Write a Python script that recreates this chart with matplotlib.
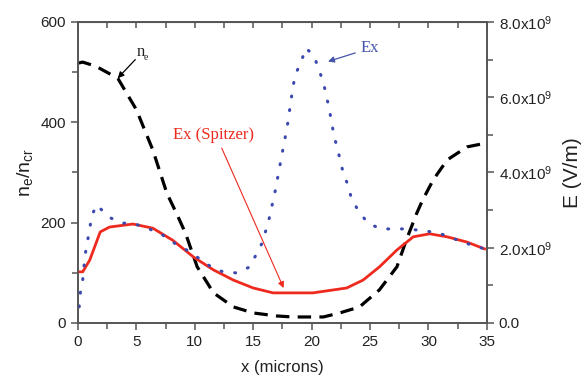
import matplotlib
matplotlib.use("Agg")
import matplotlib.pyplot as plt
from matplotlib.ticker import MultipleLocator, FixedLocator

plt.rcParams['font.family'] = ['Liberation Sans', 'DejaVu Sans']
plt.rcParams['mathtext.fontset'] = 'custom'
plt.rcParams['mathtext.rm'] = 'Liberation Sans'
plt.rcParams['mathtext.it'] = 'Liberation Sans:italic'

# n_e / n_cr (left axis)
ne_x = [0.0, 0.4, 1.5, 3.4, 5.0, 6.4, 7.6, 8.5, 9.2, 10.2, 11.6, 13.3, 15.0, 17.0,
        18.4, 21.0, 22.4, 24.1, 25.8, 27.3, 28.1, 29.0, 29.5, 30.4, 31.6, 33.3, 34.8]
ne_y = [518, 520, 512, 488, 425, 345, 259, 215, 179, 112, 60, 32, 20, 14,
        12, 12, 20, 32, 66, 112, 165, 219, 245, 285, 325, 351, 358]

# Ex (right axis, V/m)
ex_x = [0.1, 0.2, 0.4, 0.6, 0.8, 1.2, 1.6, 2.6, 3.7, 4.9, 5.9, 7.0, 8.1, 9.3, 10.3,
        11.4, 12.4, 13.6, 14.7, 15.8, 16.4, 16.9, 17.5, 17.9, 18.4, 18.6, 19.1, 19.5,
        20.2, 20.6, 21.0, 21.5, 21.9, 22.4, 22.7, 23.1, 23.4, 24.0, 24.8, 25.9, 27.0,
        28.1, 29.1, 30.3, 31.4, 32.5, 33.7, 34.8]
ex_y = [0.43, 0.80, 1.14, 1.80, 2.15, 2.87, 3.14, 2.82, 2.66, 2.63, 2.52, 2.39, 2.15,
        1.94, 1.73, 1.49, 1.36, 1.33, 1.49, 2.15, 2.82, 3.54, 4.55, 5.20, 6.27, 6.60,
        6.94, 7.31, 7.10, 6.75, 6.40, 5.70, 5.00, 4.39, 3.99, 3.67, 3.32, 2.98, 2.66,
        2.50, 2.50, 2.50, 2.47, 2.42, 2.34, 2.20, 2.07, 1.97]

# Ex (Spitzer) (right axis, V/m)
sp_x = [0.0, 0.4, 1.0, 1.9, 2.7, 4.7, 6.4, 8.1, 9.9, 11.6, 13.3, 15.0, 16.7, 19.0,
        20.1, 23.0, 24.4, 25.8, 27.3, 28.7, 30.1, 31.6, 33.3, 34.8]
sp_y = [1.36, 1.36, 1.67, 2.42, 2.55, 2.63, 2.52, 2.20, 1.75, 1.41, 1.14, 0.93, 0.80,
        0.80, 0.80, 0.93, 1.14, 1.49, 1.94, 2.29, 2.37, 2.29, 2.15, 1.97]

xticks = [0, 5, 10, 15, 20, 25, 30, 35]
yticks_left = [0, 200, 400, 600]
yticks_right = [0.0, 2.0, 4.0, 6.0, 8.0]
right_labels = ['0.0', r'$2.0\mathrm{x}10^9$', r'$4.0\mathrm{x}10^9$',
                r'$6.0\mathrm{x}10^9$', r'$8.0\mathrm{x}10^9$']

fig = plt.figure(figsize=(5.88, 3.83), dpi=100)
ax = fig.add_axes([0.1327, 0.1567, 0.828 - 0.1327, 0.9426 - 0.1567])
ax2 = ax.twinx()

spine_c = '#555555'
ax.plot(ne_x, ne_y, color='black', lw=2.3, linestyle=(0, (4.2, 2.6)))
ax2.plot(sp_x, [v * 1e9 for v in sp_y], color='#ee2a1e', lw=2.0)
ax2.plot(ex_x, [v * 1e9 for v in ex_y], color='#3a48b0', lw=2.2,
         linestyle=(0, (0.3, 4.2)), dash_capstyle='round')

ax.set_xlim(0, 35)
ax.set_ylim(0, 600)
ax2.set_ylim(0, 8e9)

ax.xaxis.set_major_locator(FixedLocator(xticks))
ax.xaxis.set_minor_locator(MultipleLocator(2.5))
ax.yaxis.set_major_locator(FixedLocator(yticks_left))
ax.yaxis.set_minor_locator(MultipleLocator(100))
ax2.yaxis.set_major_locator(FixedLocator([v * 1e9 for v in yticks_right]))
ax2.yaxis.set_minor_locator(MultipleLocator(1e9))
ax2.set_yticklabels(right_labels)

for a in (ax, ax2):
    for s in a.spines.values():
        s.set_color(spine_c)
        s.set_linewidth(1.2)
ax.tick_params(which='both', direction='out', color=spine_c, width=1.1,
               labelsize=11, labelcolor='#222222', top=False)
ax.tick_params(which='major', length=5)
ax.tick_params(which='minor', length=4)
ax2.tick_params(which='both', direction='out', color=spine_c, width=1.1,
                labelsize=11, labelcolor='#222222')
ax2.tick_params(which='major', length=5)
ax2.tick_params(which='minor', length=4)

top = ax.secondary_xaxis('top')
top.xaxis.set_major_locator(FixedLocator(xticks))
top.xaxis.set_minor_locator(MultipleLocator(2.5))
top.tick_params(which='both', direction='in', length=4, color=spine_c, width=1.1,
                labeltop=False)
top.spines['top'].set_color(spine_c)

ax.set_xlabel('x (microns)', fontsize=12, color='#222222', labelpad=8)
ax.set_ylabel(r'$\mathrm{n_e/n_{cr}}$', fontsize=14, color='#222222', labelpad=4)
ax2.set_ylabel('E (V/m)', fontsize=15, color='#222222', labelpad=8)

serif = ['Liberation Serif', 'DejaVu Serif']
ax.annotate('', xy=(3.4, 488), xytext=(4.9, 525),
            arrowprops=dict(arrowstyle='-|>', color='black', lw=0.9,
                            mutation_scale=9, shrinkA=0, shrinkB=0))
ax.text(5.0, 525, 'n', family=serif, fontsize=12, color='#222222', va='bottom')
ax.text(5.6, 521, 'e', family=serif, fontsize=7, color='#222222', va='bottom')

ax2.annotate('Ex', xy=(21.4, 6.95e9), xytext=(24.2, 7.3e9),
             family=serif, fontsize=12, color='#4455aa', va='center',
             arrowprops=dict(arrowstyle='-|>', color='#4455aa', lw=0.9,
                             mutation_scale=9, shrinkA=2, shrinkB=0))
ax2.annotate('', xy=(17.6, 0.93e9), xytext=(12.3, 4.65e9),
             arrowprops=dict(arrowstyle='-|>', color='#ee2a1e', lw=0.8,
                             mutation_scale=9, shrinkA=0, shrinkB=0))
ax2.text(11.6, 5.0e9, 'Ex (Spitzer)', family=serif, fontsize=12, color='#ee2a1e',
         ha='center', va='center')

fig.savefig('out.png', dpi=100)
